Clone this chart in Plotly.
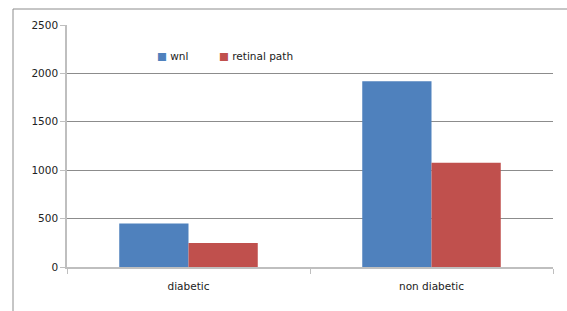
import plotly.graph_objects as go

categories = ["diabetic", "non diabetic"]
wnl = [450, 1920]
retinal_path = [248, 1078]
y_ticks = [0, 500, 1000, 1500, 2000, 2500]
series_names = ["wnl", "retinal path"]
series_colors = ["#4F81BD", "#C0504D"]

W, H = 567, 311
L, R, T, B = 67, 14, 25, 44
pw, ph = W - L - R, H - T - B

def px(x):
    return (x - L) / pw

def py(y):
    return (H - B - y) / ph

FONT = "DejaVu Sans, Verdana, sans-serif"

fig = go.Figure()
fig.add_trace(go.Bar(name=series_names[0], x=categories, y=wnl,
                     marker_color=series_colors[0], marker_line_width=0))
fig.add_trace(go.Bar(name=series_names[1], x=categories, y=retinal_path,
                     marker_color=series_colors[1], marker_line_width=0))

fig.update_layout(
    width=W, height=H,
    margin=dict(l=L, r=R, t=T, b=B),
    paper_bgcolor="white", plot_bgcolor="white",
    barmode="group", bargap=0.43, bargroupgap=0,
    font=dict(family=FONT, size=10.5, color="#222"),
    showlegend=False,
    xaxis=dict(showline=True, linecolor="#BFBFBF", linewidth=1.5,
               ticks="outside", tickson="boundaries", ticklen=5, tickcolor="#BFBFBF",
               ticklabelstandoff=9,
               showgrid=False, fixedrange=True),
    yaxis=dict(range=[0, 2500], tickvals=y_ticks, showline=True, linecolor="#BFBFBF",
               linewidth=1.5, ticks="outside", ticklen=5, tickcolor="#BFBFBF",
               showgrid=True, gridcolor="#8C8C8C", gridwidth=1, zeroline=False,
               fixedrange=True),
)

# legend drawn as text entries (coloured square + name)
legend_x = [155, 217]
for name, color, lx in zip(series_names, series_colors, legend_x):
    fig.add_annotation(xref="paper", yref="paper", x=px(lx), y=py(56),
                       xanchor="left", yanchor="middle", showarrow=False,
                       text=f"<span style='color:{color}'>■</span> {name}",
                       font=dict(family=FONT, size=10.5, color="#222"))

# chart border (top and left edges visible)
fig.add_shape(type="line", xref="paper", yref="paper",
              x0=px(13), x1=px(567), y0=py(9), y1=py(9),
              line=dict(color="#8C8C8C", width=1))
fig.add_shape(type="line", xref="paper", yref="paper",
              x0=px(13), x1=px(13), y0=py(9), y1=py(311),
              line=dict(color="#8C8C8C", width=1))

fig.write_html("out.html", config={"displayModeBar": False},
               post_script="document.body.style.margin='0';document.body.style.overflow='hidden';")
